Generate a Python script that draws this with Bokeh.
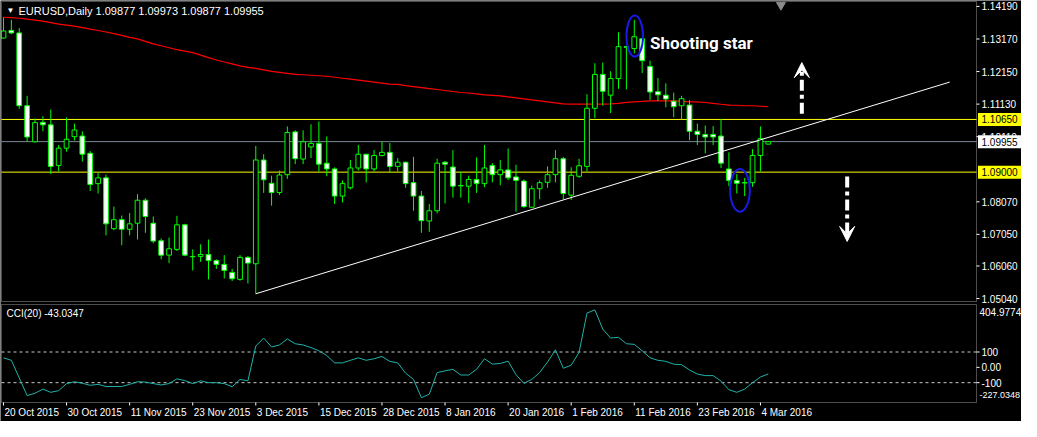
from bokeh.plotting import figure
from bokeh.models import Label, Arrow, VeeHead, Range1d, BoxAnnotation, ColumnDataSource
from bokeh.core.properties import value
from bokeh.embed import file_html
from bokeh.resources import INLINE

# ---------------- data (EURUSD daily, bar index 0 = 20 Oct 2015) ----------------
opens = [1.1320, 1.1344, 1.1336, 1.1108, 1.0995, 1.1056, 1.1048, 1.0921, 1.0975, 1.1011,
         1.1013, 1.0959, 1.0864, 1.0882, 1.0723, 1.0751, 1.0721, 1.0740, 1.0812, 1.0740,
         1.0685, 1.0640, 1.0658, 1.0735, 1.0636, 1.0636, 1.0642, 1.0623, 1.0611, 1.0586,
         1.0564, 1.0633, 1.0613, 1.0938, 1.0865, 1.0836, 1.0892, 1.1026, 1.0941, 1.0979,
         1.0990, 1.0928, 1.0910, 1.0825, 1.0851, 1.0913, 1.0956, 1.0910, 1.0952, 1.0962,
         1.0918, 1.0931, 1.0867, 1.0825, 1.0747, 1.0779, 1.0931, 1.0916, 1.0858, 1.0856,
         1.0877, 1.0864, 1.0921, 1.0892, 1.0907, 1.0885, 1.0872, 1.0790, 1.0848, 1.0868,
         1.0892, 1.0942, 1.0828, 1.0887, 1.0918, 1.1100, 1.1206, 1.1141, 1.1193, 1.1293,
         1.1287, 1.1318, 1.1231, 1.1152, 1.1141, 1.1122, 1.1108, 1.1110, 1.1028, 1.1018,
         1.1018, 1.1013, 1.0910, 1.0874, 1.0867, 1.0867, 1.0952, 1.09877]
highs = [1.1385, 1.1377, 1.1351, 1.1139, 1.1068, 1.1075, 1.1096, 1.0985, 1.1071, 1.1052,
         1.1028, 1.0966, 1.0897, 1.0892, 1.0792, 1.0764, 1.0772, 1.0831, 1.0818, 1.0761,
         1.0692, 1.0695, 1.0763, 1.0738, 1.0658, 1.0674, 1.0689, 1.0627, 1.0640, 1.0597,
         1.0640, 1.0637, 1.0982, 1.0956, 1.0889, 1.0905, 1.1043, 1.1031, 1.1031, 1.1050,
         1.1059, 1.1012, 1.0915, 1.0874, 1.0938, 1.0985, 1.0957, 1.0969, 1.0995, 1.0991,
         1.0944, 1.0933, 1.0948, 1.0841, 1.0800, 1.0942, 1.0935, 1.0969, 1.0901, 1.0889,
         1.0946, 1.0985, 1.0928, 1.0938, 1.0974, 1.0923, 1.0877, 1.0858, 1.0874, 1.0918,
         1.0969, 1.0948, 1.0915, 1.0942, 1.1144, 1.1241, 1.1243, 1.1216, 1.1338, 1.1296,
         1.1377, 1.1321, 1.1249, 1.1195, 1.1178, 1.1149, 1.1139, 1.1126, 1.1052, 1.1046,
         1.1044, 1.1067, 1.0962, 1.0894, 1.0882, 1.0972, 1.1043, 1.09973]
lows = [1.1318, 1.1332, 1.1098, 1.0995, 1.0993, 1.1028, 1.0894, 1.0902, 1.0964, 1.0999,
        1.0933, 1.0841, 1.0833, 1.0702, 1.0718, 1.0671, 1.0702, 1.0689, 1.0710, 1.0677,
        1.0627, 1.0615, 1.0653, 1.0637, 1.0592, 1.0619, 1.0564, 1.0597, 1.0567, 1.0559,
        1.0560, 1.0551, 1.0519, 1.0835, 1.0795, 1.0828, 1.0879, 1.0925, 1.0925, 1.0944,
        1.0902, 1.0887, 1.0800, 1.0805, 1.0846, 1.0905, 1.0868, 1.0902, 1.0949, 1.0897,
        1.0902, 1.0851, 1.0779, 1.0710, 1.0713, 1.0771, 1.0802, 1.0820, 1.0820, 1.0803,
        1.0835, 1.0853, 1.0868, 1.0859, 1.0875, 1.0776, 1.0788, 1.0788, 1.0815, 1.0851,
        1.0868, 1.0815, 1.0813, 1.0882, 1.0902, 1.1069, 1.1108, 1.1085, 1.1161, 1.1159,
        1.1272, 1.1210, 1.1126, 1.1123, 1.1103, 1.1072, 1.1065, 1.1000, 1.0985, 1.0959,
        1.0985, 1.0913, 1.0856, 1.0833, 1.0825, 1.0854, 1.0902, 1.09877]
closes = [1.1342, 1.1336, 1.1108, 1.1010, 1.1055, 1.1048, 1.0918, 1.0975, 1.1003, 1.1032,
          1.0956, 1.0861, 1.0882, 1.0738, 1.0751, 1.0721, 1.0738, 1.0812, 1.0761, 1.0684,
          1.0640, 1.0660, 1.0735, 1.0640, 1.0635, 1.0642, 1.0623, 1.0611, 1.0592, 1.0566,
          1.0633, 1.0615, 1.0938, 1.0876, 1.0836, 1.0891, 1.1024, 1.0942, 1.0995, 1.0990,
          1.0925, 1.0910, 1.0825, 1.0864, 1.0913, 1.0956, 1.0910, 1.0952, 1.0962, 1.0918,
          1.0931, 1.0864, 1.0825, 1.0748, 1.0779, 1.0928, 1.0925, 1.0856, 1.0857, 1.0877,
          1.0864, 1.0913, 1.0892, 1.0907, 1.0882, 1.0874, 1.0792, 1.0848, 1.0867, 1.0892,
          1.0942, 1.0833, 1.0890, 1.0920, 1.1100, 1.1206, 1.1153, 1.1193, 1.1293, 1.1291,
          1.1324, 1.1249, 1.1151, 1.1142, 1.1129, 1.1105, 1.1130, 1.1028, 1.1018, 1.1010,
          1.1010, 1.0928, 1.0874, 1.0865, 1.0866, 1.0952, 1.1005, 1.09955]
ma_line = [1.13851, 1.13836, 1.13820, 1.13790, 1.13759, 1.13728, 1.13682, 1.13635, 1.13605, 1.13574,
           1.13528, 1.13481, 1.13435, 1.13389, 1.13337, 1.13281, 1.13220, 1.13173, 1.13096, 1.13019,
           1.12958, 1.12896, 1.12834, 1.12788, 1.12742, 1.12665, 1.12588, 1.12511, 1.12449, 1.12388,
           1.12326, 1.12280, 1.12249, 1.12203, 1.12157, 1.12126, 1.12095, 1.12064, 1.12049, 1.12034,
           1.12018, 1.12003, 1.11972, 1.11941, 1.11910, 1.11879, 1.11849, 1.11818, 1.11787, 1.11756,
           1.11747, 1.11710, 1.11679, 1.11648, 1.11618, 1.11587, 1.11556, 1.11525, 1.11494, 1.11479,
           1.11448, 1.11417, 1.11402, 1.11387, 1.11356, 1.11325, 1.11294, 1.11263, 1.11233, 1.11202,
           1.11171, 1.11140, 1.11131, 1.11131, 1.11131, 1.11131, 1.11131, 1.11140, 1.11156, 1.11186,
           1.11202, 1.11217, 1.11233, 1.11233, 1.11233, 1.11233, 1.11217, 1.11202, 1.11202, 1.11180,
           1.11156, 1.11125, 1.11100, 1.11094, 1.11079, 1.11079, 1.11063, 1.11048]
cci = [62, 46, -69, -184, -169, -142, -163, -152, -106, -94,
       -104, -117, -111, -125, -125, -125, -111, -94, -96, -106,
       -115, -106, -75, -86, -106, -88, -100, -100, -106, -127,
       -79, -88, 139, 191, 133, 146, 185, 154, 146, 129,
       108, 77, 29, 29, 46, 62, 46, 56, 71, 39,
       29, -38, -79, -198, -175, -34, -23, -13, -50, -50,
       -13, 56, 21, 25, 40, -48, -104, -79, -34, 35,
       114, -6, 14, 98, 354, 375, 250, 191, 196, 154,
       150, 108, 62, 46, 39, 21, 17, -17, -44, -54,
       -54, -90, -146, -163, -142, -100, -63, -43.0347]

date_tick_index = [0, 8, 16, 24, 32, 40, 48, 56, 64, 72, 80, 88, 96]
date_tick_labels = ["20 Oct 2015", "30 Oct 2015", "11 Nov 2015", "23 Nov 2015", "3 Dec 2015",
                    "15 Dec 2015", "28 Dec 2015", "8 Jan 2016", "20 Jan 2016", "1 Feb 2016",
                    "11 Feb 2016", "23 Feb 2016", "4 Mar 2016"]
price_ticks = [1.14190, 1.13170, 1.12150, 1.11130, 1.10110, 1.08070, 1.07050, 1.06060, 1.05040]
price_tick_labels = ["1.14190", "1.13170", "1.12150", "1.11130", "1.10110", "1.08070",
                     "1.07050", "1.06060", "1.05040"]
marked_prices = [1.10650, 1.09955, 1.09000]
marked_labels = ["1.10650", "1.09955", "1.09000"]
marked_colors = ["yellow", "white", "yellow"]
level_prices = [1.10650, 1.09000]
bid_price = 1.09955
trend_x = [32, 120]
trend_y = [1.0519, 1.1182]
ellipse_x = [80.06, 93.4]
ellipse_y = [1.1326, 1.0843]
ellipse_w = [2.1, 2.5]
ellipse_h = [0.01285, 0.0134]
arrow_up = (101.25, 1.1083, 1.1243)
arrow_down = (107.0, 1.0886, 1.0683)
note_text = "Shooting star"
note_pos = (82.0, 1.1303)
shift_marker_x = 98.6
cci_ticks = [100, 0, -100]
cci_tick_labels = ["100", "0.00", "-100"]
cci_levels = [100, -100]
cci_max, cci_min = 404.9774, -227.0348
title_text = "EURUSD,Daily  1.09877 1.09973 1.09877 1.09955"
cci_title = "CCI(20) -43.0347"

# ---------------- layout constants ----------------
W, H = 1021, 421
FONT = "Liberation Sans"
LIME = "#00ff00"

# horizontal: the panes cover bars -0.25 .. 123.4 over 975 px, the rest is the scale area
PANE_L, PANE_R = -0.25, 123.4
SX = 975.0 / (PANE_R - PANE_L)
X0 = PANE_L - 1.0 / SX
X1 = X0 + W / SX

# price pane: canvas rows 1 .. 301
P_BOT, P_TOP = 1.04948, 1.14344
SY = 300.0 / (P_TOP - P_BOT)
PY1 = P_TOP + 1.0 / SY
PY0 = P_TOP - (H - 1.0) / SY

# CCI pane: canvas rows 304 .. 402, time scale below
C_BOT, C_TOP = -229.4, 410.0
CY = 98.0 / (C_TOP - C_BOT)
CY1 = C_TOP + 304.0 / CY
CY0 = C_TOP - (H - 304.0) / CY

p = figure(width=W, height=H, x_range=Range1d(X0, X1), y_range=Range1d(PY0, PY1),
           output_backend="svg", toolbar_location=None, x_axis_location=None,
           y_axis_location=None, min_border_left=0, min_border_right=0,
           min_border_top=0, min_border_bottom=0, background_fill_color="black",
           border_fill_color="black", outline_line_color=None)
p.extra_y_ranges = {"cci": Range1d(CY0, CY1)}
p.grid.visible = False

idx = list(range(len(opens)))
src = ColumnDataSource(dict(
    x=idx, h=highs, l=lows,
    top=[max(o, c) for o, c in zip(opens, closes)],
    bottom=[min(o, c) for o, c in zip(opens, closes)],
    fill=["black" if c >= o else "white" for o, c in zip(opens, closes)],
))

# ---- price pane ----
p.segment(x0=[PANE_L] * 2, x1=[PANE_R] * 2, y0=level_prices, y1=level_prices,
          line_color="#ffff00", line_width=1)
p.segment(x0=[PANE_L], x1=[PANE_R], y0=[bid_price], y1=[bid_price],
          line_color="#7a8796", line_width=1)

p.line(idx, ma_line, line_color="red", line_width=1.2)
p.segment(x0="x", y0="h", x1="x", y1="l", line_color=LIME, line_width=1, source=src)
p.vbar(x="x", width=0.6, top="top", bottom="bottom", fill_color="fill",
       line_color=LIME, line_width=1, source=src)
p.line(trend_x, trend_y, line_color="white", line_width=1)

p.ellipse(x=ellipse_x, y=ellipse_y, width=ellipse_w, height=ellipse_h,
          fill_color=None, line_color="#1a1ae6", line_width=2)

for (ax, y0, y1) in (arrow_up, arrow_down):
    p.add_layout(Arrow(end=VeeHead(size=15, fill_color="white", line_color="white"),
                       x_start=ax, y_start=y0, x_end=ax, y_end=y1,
                       line_color="white", line_width=4, line_dash="11 4 4 4"))

p.add_layout(Label(x=note_pos[0], y=note_pos[1], text=note_text, text_color="white",
                   text_font="Roboto", text_font_style="bold",
                   text_font_size="17px", text_baseline="alphabetic"))

p.scatter(x=[shift_marker_x], y=[P_TOP - 3.5 / SY], marker="inverted_triangle", size=9,
          fill_color="#8a8a8a", line_color="#8a8a8a")

p.add_layout(BoxAnnotation(left=PANE_L, right=PANE_R, bottom=P_BOT, top=P_TOP,
                           fill_alpha=0, line_color="white", line_width=1))

p.add_layout(Label(x=6, y=H - 10, x_units="screen", y_units="screen", text="▼",
                   text_color="white", text_font_size="8px", text_baseline="middle"))
p.add_layout(Label(x=18, y=H - 10, x_units="screen", y_units="screen", text=title_text,
                   text_color="white", text_font=FONT, text_font_size="11px",
                   text_baseline="middle"))

# price scale
n = len(price_ticks)
p.segment(x0=[PANE_R] * n, x1=[PANE_R + 3 / SX] * n, y0=price_ticks, y1=price_ticks,
          line_color="white", line_width=1)
p.text(x=[PANE_R] * n, y=price_ticks, text=price_tick_labels, x_offset=5,
       text_color="white", text_font=value(FONT), text_font_size=value("10px"),
       text_baseline="middle", text_align="left")
m = len(marked_prices)
p.quad(left=[PANE_R + 1.5 / SX] * m, right=[X1] * m,
       top=[v + 6.5 / SY for v in marked_prices], bottom=[v - 6.5 / SY for v in marked_prices],
       fill_color=marked_colors, line_color=None)
p.text(x=[PANE_R] * m, y=marked_prices, text=marked_labels, x_offset=5,
       text_color="black", text_font=value(FONT), text_font_size=value("10px"),
       text_baseline="middle", text_align="left")

# ---- CCI pane ----
p.segment(x0=[PANE_L] * 2, x1=[PANE_R] * 2, y0=cci_levels, y1=cci_levels,
          line_color="#c8c8c8", line_width=1, line_dash="3 3", y_range_name="cci")
p.line(idx, cci, line_color="#20b2aa", line_width=1, y_range_name="cci")
p.add_layout(BoxAnnotation(left=PANE_L, right=PANE_R, bottom=C_BOT, top=C_TOP,
                           fill_alpha=0, line_color="white", line_width=1,
                           y_range_name="cci"))

p.add_layout(Label(x=6, y=H - 304 - 9, x_units="screen", y_units="screen", text=cci_title,
                   text_color="white", text_font=FONT, text_font_size="10px",
                   text_baseline="middle"))

k = len(cci_ticks)
p.segment(x0=[PANE_R] * k, x1=[PANE_R + 3 / SX] * k, y0=cci_ticks, y1=cci_ticks,
          line_color="white", line_width=1, y_range_name="cci")
p.text(x=[PANE_R] * k, y=cci_ticks, text=cci_tick_labels, x_offset=5,
       text_color="white", text_font=value(FONT), text_font_size=value("10px"),
       text_baseline="middle", text_align="left", y_range_name="cci")
p.text(x=[PANE_R], y=[cci_max - 7 / CY], text=[f"{cci_max:.4f}"], x_offset=3,
       text_color="white", text_font=value(FONT), text_font_size=value("10px"),
       text_baseline="middle", text_align="left", y_range_name="cci")
p.text(x=[PANE_R], y=[cci_min + 7 / CY], text=[f"{cci_min:.4f}"], x_offset=3,
       text_color="white", text_font=value(FONT), text_font_size=value("9px"),
       text_baseline="middle", text_align="left", y_range_name="cci")

# time scale
d = len(date_tick_index)
p.segment(x0=date_tick_index, x1=date_tick_index, y0=[C_BOT] * d, y1=[C_BOT - 3 / CY] * d,
          line_color="white", line_width=1, y_range_name="cci")
p.text(x=date_tick_index, y=[C_BOT - 10 / CY] * d, text=date_tick_labels, x_offset=1,
       text_color="white", text_font=value(FONT), text_font_size=value("10px"),
       text_baseline="middle", text_align="left", y_range_name="cci")

open("out.html", "w").write(file_html(p, INLINE))
